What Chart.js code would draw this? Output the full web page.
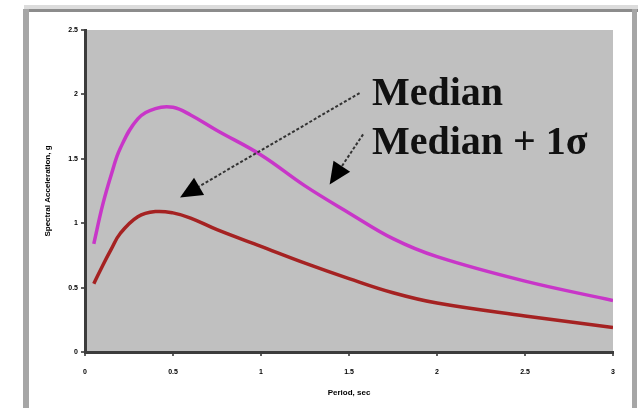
<!DOCTYPE html>
<html>
<head>
<meta charset="utf-8">
<script src="https://cdn.jsdelivr.net/npm/chart.js@4"></script>
<style>
  html, body { margin: 0; padding: 0; background: #fff; }
  #wrap { width: 640px; height: 408px; }
</style>
</head>
<body>
<div id="wrap"><canvas id="spectraChart" width="640" height="408"></canvas></div>
<script>
// Periods (sec)
const periods = [0.05, 0.1, 0.15, 0.2, 0.3, 0.4, 0.5, 0.6, 0.75, 1.0, 1.25, 1.5, 1.75, 2.0, 2.5, 3.0]
// Spectral acceleration (g)
const medianValues = [0.53, 0.67, 0.80, 0.92, 1.05, 1.09, 1.08, 1.04, 0.95, 0.82, 0.69, 0.57, 0.46, 0.38, 0.28, 0.19]
const medianPlusSigmaValues = [0.84, 1.14, 1.38, 1.58, 1.81, 1.89, 1.90, 1.84, 1.72, 1.53, 1.29, 1.08, 0.88, 0.74, 0.55, 0.40]
const xTicks = [0, 0.5, 1, 1.5, 2, 2.5, 3]
const yTicks = [0, 0.5, 1, 1.5, 2, 2.5]

// Arrow annotations, in data units (period, g)
const annotations = [
  { text: "Median", textAt: [1.63, 1.92], from: [1.56, 2.01], to: [0.54, 1.20] },
  { text: "Median + 1\u03c3", textAt: [1.63, 1.54], from: [1.58, 1.69], to: [1.39, 1.30] },
]

function toPoints(values) {
  return periods.map((p, i) => ({ x: p, y: values[i] }))
}

// Grey plot background + outer frame
const framePlugin = {
  id: "frame",
  beforeDraw(chart) {
    const { ctx, chartArea } = chart
    ctx.save()
    ctx.fillStyle = "#ffffff"
    ctx.fillRect(0, 0, chart.width, chart.height)
    ctx.fillStyle = "#c0c0c0"
    ctx.fillRect(chartArea.left, chartArea.top, chartArea.right - chartArea.left, chartArea.bottom - chartArea.top)
    // outer border
    ctx.fillStyle = "#dcdcdc"
    ctx.fillRect(24, 5, 614, 4)
    ctx.fillStyle = "#8c8c8c"
    ctx.fillRect(24, 9, 614, 3)
    ctx.fillStyle = "#a6a6a6"
    ctx.fillRect(23, 9, 6, chart.height - 9)
    ctx.fillRect(632, 9, 5, chart.height - 9)
    ctx.restore()
  },
}

// Arrows and labels
const arrowPlugin = {
  id: "arrows",
  afterDatasetsDraw(chart) {
    const { ctx } = chart
    const xs = chart.scales.x
    const ys = chart.scales.y
    ctx.save()
    annotations.forEach((a) => {
      const x1 = xs.getPixelForValue(a.from[0])
      const y1 = ys.getPixelForValue(a.from[1])
      const x2 = xs.getPixelForValue(a.to[0])
      const y2 = ys.getPixelForValue(a.to[1])
      const ang = Math.atan2(y2 - y1, x2 - x1)
      const headLen = 22
      const headW = 10
      const bx = x2 - headLen * Math.cos(ang)
      const by = y2 - headLen * Math.sin(ang)

      ctx.strokeStyle = "#333333"
      ctx.lineWidth = 2
      ctx.setLineDash([3, 2])
      ctx.beginPath()
      ctx.moveTo(x1, y1)
      ctx.lineTo(bx, by)
      ctx.stroke()
      ctx.setLineDash([])

      ctx.fillStyle = "#000000"
      ctx.beginPath()
      ctx.moveTo(x2, y2)
      ctx.lineTo(bx + headW * Math.sin(ang), by - headW * Math.cos(ang))
      ctx.lineTo(bx - headW * Math.sin(ang), by + headW * Math.cos(ang))
      ctx.closePath()
      ctx.fill()

      ctx.fillStyle = "#111111"
      ctx.font = "bold 40px 'Liberation Serif', 'DejaVu Serif', serif"
      ctx.textAlign = "left"
      ctx.textBaseline = "alphabetic"
      ctx.fillText(a.text, xs.getPixelForValue(a.textAt[0]), ys.getPixelForValue(a.textAt[1]))
    })
    ctx.restore()
  },
}

const tickFont = { family: "Arial, 'Liberation Sans'", size: 7, weight: "bold" }
const titleFont = { family: "Arial, 'Liberation Sans'", size: 8, weight: "bold" }

const ctx = document.getElementById("spectraChart")
new Chart(ctx, {
  type: "line",
  data: {
    datasets: [
      {
        label: "Median + 1\u03c3",
        data: toPoints(medianPlusSigmaValues),
        borderColor: "#c836c8",
        borderWidth: 3.5,
        pointRadius: 0,
        tension: 0.4,
        fill: false,
      },
      {
        label: "Median",
        data: toPoints(medianValues),
        borderColor: "#a52222",
        borderWidth: 3.5,
        pointRadius: 0,
        tension: 0.4,
        fill: false,
      },
    ],
  },
  options: {
    responsive: false,
    animation: false,
    layout: { padding: { left: 39, top: 30, right: 27, bottom: 6 } },
    plugins: {
      legend: { display: false },
      tooltip: { enabled: false },
    },
    scales: {
      x: {
        type: "linear",
        min: 0,
        max: 3,
        afterBuildTicks: (scale) => { scale.ticks = xTicks.map((v) => ({ value: v })) },
        afterFit: (scale) => { scale.height = 50 },
        border: { color: "#3c3c3c", width: 3 },
        grid: { drawOnChartArea: false, tickLength: 4, color: "#606060", lineWidth: 2 },
        ticks: {
          color: "#000",
          padding: 12,
          maxRotation: 0,
          font: tickFont,
          callback: (v) => String(v),
        },
        title: {
          display: true,
          text: "Period, sec",
          color: "#000",
          padding: { top: 7 },
          font: titleFont,
        },
      },
      y: {
        min: 0,
        max: 2.5,
        afterBuildTicks: (scale) => { scale.ticks = yTicks.map((v) => ({ value: v })) },
        afterFit: (scale) => { scale.width = 46 },
        border: { color: "#3c3c3c", width: 3 },
        grid: { drawOnChartArea: false, tickLength: 4, color: "#606060", lineWidth: 2 },
        ticks: {
          color: "#000",
          padding: 3,
          font: tickFont,
          callback: (v) => String(v),
        },
        title: {
          display: true,
          text: "Spectral Acceleration, g",
          color: "#000",
          padding: { bottom: 10 },
          font: titleFont,
        },
      },
    },
  },
  plugins: [framePlugin, arrowPlugin],
})
</script>
</body>
</html>
